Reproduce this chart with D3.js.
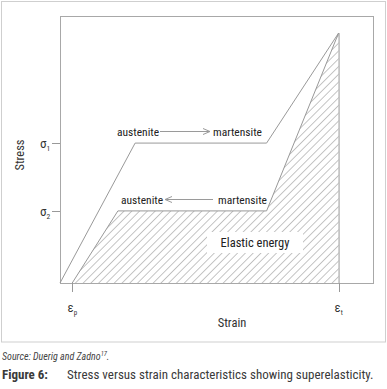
<!DOCTYPE html>
<html><head><meta charset="utf-8">
<script src="https://cdn.jsdelivr.net/npm/d3@7"></script>
<style>
html,body{margin:0;padding:0;background:#fff;}
svg{display:block;}
text{font-family:"Liberation Sans Narrow","Roboto Condensed","Arial Narrow","DejaVu Sans Condensed",sans-serif;}
</style></head>
<body><svg id="c" width="387" height="389"></svg>
<script>
// ---- data ----
const loadingStrain   = [0, 24, 66, 89];
const loadingStress   = [0, 52.4, 52.4, 93.6];
const unloadingStrain = [89, 66, 18.5, 3.9];
const unloadingStress = [93.6, 27, 27, 0];
const stressTickValues = [52.4, 27];
const stressTickSubs   = ["1", "2"];
const strainTickValues = [3.9, 89];
const strainTickSubs   = ["p", "t"];
const upperLabels = ["austenite", "martensite"];
const lowerLabels = ["austenite", "martensite"];

const svg = d3.select("#c");
const x = d3.scaleLinear().domain([0, 100]).range([60, 373]);
const y = d3.scaleLinear().domain([0, 100]).range([283, 16]);

// outer frame
svg.append("rect").attr("x", 1.5).attr("y", 1.5).attr("width", 384).attr("height", 340.5)
  .attr("fill", "none").attr("stroke", "#cfcfcf").attr("stroke-width", 1);

// hatch pattern
const defs = svg.append("defs");
const pat = defs.append("pattern").attr("id", "hatch").attr("patternUnits", "userSpaceOnUse")
  .attr("width", 5.5).attr("height", 10).attr("patternTransform", "rotate(45)");
pat.append("line").attr("x1", 0).attr("y1", -1).attr("x2", 0).attr("y2", 11)
  .attr("stroke", "#8a8a8a").attr("stroke-width", 1);

// plot box
svg.append("rect").attr("x", x(0) + 0.5).attr("y", y(100) + 0.5)
  .attr("width", x(100) - x(0)).attr("height", y(0) - y(100))
  .attr("fill", "none").attr("stroke", "#a8a8a8").attr("stroke-width", 1);

// hatched elastic energy area
const hatchPts = unloadingStrain.map((s, i) => [s, unloadingStress[i]]);
hatchPts.push([unloadingStrain[0], 0]);
const line = d3.line().x(d => x(d[0])).y(d => y(d[1]));
svg.append("path").attr("d", line(hatchPts) + "Z").attr("fill", "url(#hatch)").attr("stroke", "none");

// curves
const loadPts = loadingStrain.map((s, i) => [s, loadingStress[i]]);
const unloadPts = unloadingStrain.map((s, i) => [s, unloadingStress[i]]);
svg.append("path").attr("d", line(loadPts)).attr("fill", "none").attr("stroke", "#999").attr("stroke-width", 1);
svg.append("path").attr("d", line(unloadPts)).attr("fill", "none").attr("stroke", "#999").attr("stroke-width", 1);
// vertical at eps_t
svg.append("line").attr("x1", x(strainTickValues[1]) + 0.5).attr("x2", x(strainTickValues[1]) + 0.5)
  .attr("y1", y(unloadingStress[0])).attr("y2", y(0))
  .attr("stroke", "#999").attr("stroke-width", 1);

// y ticks
stressTickValues.forEach((v, i) => {
  const yy = Math.round(y(v)) + 0.5;
  svg.append("line").attr("x1", 52).attr("x2", x(0)).attr("y1", yy).attr("y2", yy)
    .attr("stroke", "#999").attr("stroke-width", 1);
  const t = svg.append("text").attr("x", 40).attr("y", yy + 4).attr("font-size", 13).attr("fill", "#333");
  t.append("tspan").text("σ");
  t.append("tspan").attr("dy", 3).attr("font-size", 7.5).text(stressTickSubs[i]);
});
// x ticks
strainTickValues.forEach((v, i) => {
  const xx = Math.round(x(v)) + 0.5;
  svg.append("line").attr("x1", xx).attr("x2", xx).attr("y1", y(0)).attr("y2", 292)
    .attr("stroke", "#999").attr("stroke-width", 1);
  const t = svg.append("text").attr("x", xx - 5).attr("y", 312).attr("font-size", 13).attr("fill", "#333");
  t.append("tspan").text("ε");
  t.append("tspan").attr("dy", 3).attr("font-size", 7).text(strainTickSubs[i]);
});

// axis titles
svg.append("text").attr("transform", "translate(24,155) rotate(-90)").attr("text-anchor", "middle")
  .attr("font-size", 12.5).attr("fill", "#333").text("Stress");
svg.append("text").attr("x", 232).attr("y", 327).attr("text-anchor", "middle")
  .attr("font-size", 12.5).attr("fill", "#333").text("Strain");

// transformation labels and arrows
const labelColor = "#222";
const arrowColor = "#9a9a9a";
svg.append("text").attr("x", 117).attr("y", 135.5).attr("font-size", 11.5).attr("fill", labelColor).text(upperLabels[0]);
svg.append("text").attr("x", 213).attr("y", 135.5).attr("font-size", 11.5).attr("fill", labelColor).text(upperLabels[1]);
svg.append("line").attr("x1", 160).attr("x2", 210).attr("y1", 131.5).attr("y2", 131.5).attr("stroke", arrowColor);
svg.append("path").attr("d", "M203,128.5 L210,131.5 L203,134.5").attr("fill", "none").attr("stroke", arrowColor);

svg.append("text").attr("x", 121).attr("y", 203.5).attr("font-size", 11.5).attr("fill", labelColor).text(lowerLabels[0]);
svg.append("text").attr("x", 218).attr("y", 203.5).attr("font-size", 11.5).attr("fill", labelColor).text(lowerLabels[1]);
svg.append("line").attr("x1", 165).attr("x2", 213).attr("y1", 199.5).attr("y2", 199.5).attr("stroke", arrowColor);
svg.append("path").attr("d", "M172,196.5 L165,199.5 L172,202.5").attr("fill", "none").attr("stroke", arrowColor);

// elastic energy label
svg.append("rect").attr("x", 207).attr("y", 232).attr("width", 96).attr("height", 21).attr("fill", "#fff");
svg.append("text").attr("x", 255).attr("y", 247).attr("text-anchor", "middle")
  .attr("font-size", 12.5).attr("fill", labelColor).text("Elastic energy");

// caption
const src = svg.append("text").attr("x", 2).attr("y", 360).attr("font-size", 10)
  .attr("font-style", "italic").attr("fill", "#444");
src.append("tspan").text("Source: Duerig and Zadno");
src.append("tspan").attr("dy", -4).attr("font-size", 6.5).text("17");
src.append("tspan").attr("dy", 4).text(".");

svg.append("text").attr("x", 2).attr("y", 379).attr("font-size", 13).attr("font-weight", "bold")
  .attr("fill", "#3a3a3a").text("Figure 6:");
svg.append("text").attr("x", 67).attr("y", 379).attr("font-size", 13)
  .attr("fill", "#3a3a3a").text("Stress versus strain characteristics showing superelasticity.");
</script></body></html>
